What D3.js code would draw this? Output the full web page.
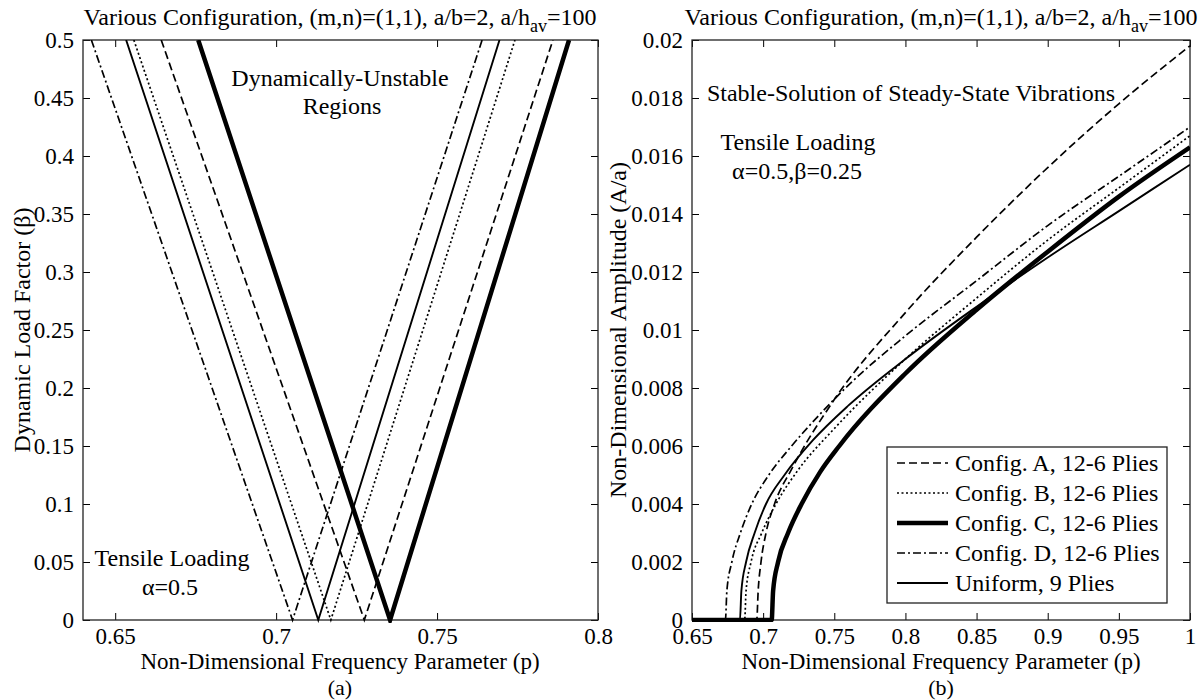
<!DOCTYPE html>
<html><head><meta charset="utf-8">
<script src="https://cdn.jsdelivr.net/npm/d3@7"></script>
<style>body{margin:0;background:#fff}svg{display:block}text{font-family:"Liberation Serif","Times New Roman",serif;fill:#000}</style>
</head><body><svg id="c" width="1200" height="700"></svg>
<script>
// ---------- data ----------
const seriesNames = ["Config. A, 12-6 Plies","Config. B, 12-6 Plies","Config. C, 12-6 Plies","Config. D, 12-6 Plies","Uniform, 9 Plies"];
// panel (a): V-shaped instability boundaries: [p at beta=0.5 (left), p at beta=0 , p at beta=0.5 (right)]
const vBetaTop = 0.5;
const vA = [0.6643, 0.7274, 0.7860];
const vB = [0.6558, 0.7170, 0.7742];
const vC = [0.6758, 0.7354, 0.7910];
const vD = [0.6426, 0.7051, 0.7640];
const vU = [0.6534, 0.7131, 0.7694];
// panel (b): amplitude curves [p, A/a]
const curveA = [[0.65,0],[0.6955,0],[0.6965,0.001],[0.6985,0.002],[0.702,0.003],[0.708,0.004],[0.72,0.0052],[0.75,0.0076],[0.8,0.0106],[0.85,0.0132],[0.9,0.0156],[0.95,0.0178],[1.0,0.0198]];
const curveB = [[0.65,0],[0.687,0],[0.688,0.001],[0.6915,0.002],[0.699,0.003],[0.709,0.004],[0.725,0.0052],[0.75,0.0066],[0.8,0.0090],[0.85,0.0111],[0.9,0.0131],[0.95,0.0149],[1.0,0.0167]];
const curveC = [[0.65,0],[0.706,0],[0.707,0.001],[0.7105,0.002],[0.7175,0.003],[0.727,0.004],[0.74,0.0051],[0.7535,0.006],[0.8,0.0085],[0.85,0.0107],[0.9,0.0127],[0.95,0.0146],[1.0,0.0163]];
const curveD = [[0.65,0],[0.6735,0],[0.6745,0.001],[0.678,0.002],[0.684,0.003],[0.692,0.004],[0.704,0.005],[0.72,0.006],[0.74,0.0071],[0.76,0.0081],[0.8,0.0098],[0.85,0.0117],[0.9,0.0136],[0.95,0.0153],[1.0,0.0170]];
const curveU = [[0.65,0],[0.6837,0],[0.6847,0.001],[0.688,0.002],[0.694,0.003],[0.702,0.004],[0.715,0.005],[0.735,0.0062],[0.76,0.0074],[0.8,0.0090],[0.85,0.0108],[0.9,0.0125],[0.95,0.0141],[1.0,0.0157]];
const xTicksA = [0.65,0.7,0.75,0.8];
const yTicksA = [0,0.05,0.1,0.15,0.2,0.25,0.3,0.35,0.4,0.45,0.5];
const xTicksB = [0.65,0.7,0.75,0.8,0.85,0.9,0.95,1];
const yTicksB = [0,0.002,0.004,0.006,0.008,0.01,0.012,0.014,0.016,0.018,0.02];

// ---------- styles ----------
const styles = [
  {dash:"8,4", w:1.7},
  {dash:"2,2.5", w:1.7},
  {dash:null, w:4.5},
  {dash:"8,3,2,3", w:1.7},
  {dash:null, w:1.9}
];
const svg = d3.select("#c");
const FS = 24, TFS = 23;

function panel(x0,x1,y0,y1,xd,yd,xt,yt,xfmt,yfmt){
  const x = d3.scaleLinear().domain(xd).range([x0,x1]);
  const y = d3.scaleLinear().domain(yd).range([y1,y0]);
  const g = svg.append("g");
  const tl = 7;
  g.append("g").attr("transform",`translate(0,${y1})`).call(d3.axisBottom(x).tickValues(xt).tickSize(-tl).tickPadding(8).tickFormat(xfmt));
  g.append("g").attr("transform",`translate(0,${y0})`).call(d3.axisTop(x).tickValues(xt).tickSize(-tl).tickFormat(""));
  g.append("g").attr("transform",`translate(${x0},0)`).call(d3.axisLeft(y).tickValues(yt).tickSize(-tl).tickPadding(9).tickFormat(yfmt));
  g.append("g").attr("transform",`translate(${x1},0)`).call(d3.axisRight(y).tickValues(yt).tickSize(-tl).tickFormat(""));
  g.selectAll(".domain").remove();
  g.selectAll(".tick line").attr("stroke","#000").attr("stroke-width",1);
  g.selectAll(".tick text").attr("font-size",TFS).attr("font-family","Liberation Serif");
  g.append("rect").attr("x",x0).attr("y",y0).attr("width",x1-x0).attr("height",y1-y0).attr("fill","none").attr("stroke","#222").attr("stroke-width",1.3);
  return {x,y,g};
}
const fmt = d => d3.format("~g")(d);

// ---------- panel (a) ----------
const L = {x0:83,x1:598,y0:40,y1:620};
const pa = panel(L.x0,L.x1,L.y0,L.y1,[0.64,0.8],[0,0.5],xTicksA,yTicksA,fmt,fmt);
svg.append("clipPath").attr("id","ca").append("rect").attr("x",L.x0).attr("y",L.y0).attr("width",L.x1-L.x0).attr("height",L.y1-L.y0+3);
const vs = [vA,vB,vC,vD,vU];
const lineA = d3.line().x(d=>pa.x(d[0])).y(d=>pa.y(d[1]));
vs.forEach((v,i)=>{
  const pts = [[v[0],vBetaTop],[v[1],0],[v[2],vBetaTop]];
  svg.append("path").attr("d",lineA(pts)).attr("fill","none").attr("stroke","#000")
    .attr("stroke-width",styles[i].w).attr("stroke-dasharray",styles[i].dash).attr("stroke-linejoin","miter").attr("clip-path","url(#ca)");
});
svg.append("text").attr("x",340).attr("y",86).attr("text-anchor","middle").attr("font-size",FS).text("Dynamically-Unstable");
svg.append("text").attr("x",342).attr("y",114).attr("text-anchor","middle").attr("font-size",FS).text("Regions");
svg.append("text").attr("x",172).attr("y",566).attr("text-anchor","middle").attr("font-size",FS).text("Tensile Loading");
svg.append("text").attr("x",170).attr("y",595).attr("text-anchor","middle").attr("font-size",FS).text("α=0.5");

// ---------- panel (b) ----------
const R = {x0:692,x1:1190,y0:40,y1:620};
const pb = panel(R.x0,R.x1,R.y0,R.y1,[0.65,1],[0,0.02],xTicksB,yTicksB,fmt,fmt);
svg.append("clipPath").attr("id","cb").append("rect").attr("x",R.x0).attr("y",R.y0-2).attr("width",R.x1-R.x0).attr("height",R.y1-R.y0+4);
const lineB = d3.line().x(d=>pb.x(d[0])).y(d=>pb.y(d[1])).curve(d3.curveMonotoneX);
const curves = [curveA,curveB,curveC,curveD,curveU];
curves.forEach((c,i)=>{
  svg.append("path").attr("d",lineB(c)).attr("fill","none").attr("stroke","#000")
    .attr("stroke-width",styles[i].w).attr("stroke-dasharray",styles[i].dash).attr("clip-path","url(#cb)");
});
svg.append("text").attr("x",911).attr("y",101).attr("text-anchor","middle").attr("font-size",FS).text("Stable-Solution of Steady-State Vibrations");
svg.append("text").attr("x",798).attr("y",150).attr("text-anchor","middle").attr("font-size",FS).text("Tensile Loading");
svg.append("text").attr("x",797).attr("y",179).attr("text-anchor","middle").attr("font-size",FS).text("α=0.5,β=0.25");

// legend
const lg = svg.append("g");
lg.append("rect").attr("x",887).attr("y",447).attr("width",280).attr("height",156).attr("fill","#fff").attr("stroke","#222").attr("stroke-width",1.3);
seriesNames.forEach((n,i)=>{
  const yy = 463 + i*30;
  lg.append("line").attr("x1",897).attr("x2",948).attr("y1",yy).attr("y2",yy).attr("stroke","#000")
    .attr("stroke-width",styles[i].w).attr("stroke-dasharray",styles[i].dash);
  lg.append("text").attr("x",955).attr("y",yy+8).attr("font-size",FS).text(n);
});

// ---------- titles and axis labels ----------
function title(cx){
  const t = svg.append("text").attr("x",cx).attr("y",25).attr("text-anchor","middle").attr("font-size",FS);
  t.append("tspan").text("Various Configuration, (m,n)=(1,1), a/b=2, a/h");
  t.append("tspan").attr("dy",7).attr("font-size",18).text("av");
  t.append("tspan").attr("dy",-7).text("=100");
}
title(340); title(941);
svg.append("text").attr("x",340).attr("y",669).attr("text-anchor","middle").attr("font-size",23).text("Non-Dimensional Frequency Parameter (p)");
svg.append("text").attr("x",941).attr("y",669).attr("text-anchor","middle").attr("font-size",23).text("Non-Dimensional Frequency Parameter (p)");
svg.append("text").attr("x",340).attr("y",695).attr("text-anchor","middle").attr("font-size",22).text("(a)");
svg.append("text").attr("x",941).attr("y",695).attr("text-anchor","middle").attr("font-size",22).text("(b)");
svg.append("text").attr("transform","translate(30,330) rotate(-90)").attr("text-anchor","middle").attr("font-size",FS).text("Dynamic Load Factor (β)");
svg.append("text").attr("transform","translate(626,330) rotate(-90)").attr("text-anchor","middle").attr("font-size",FS).text("Non-Dimensional Amplitude (A/a)");
</script></body></html>
